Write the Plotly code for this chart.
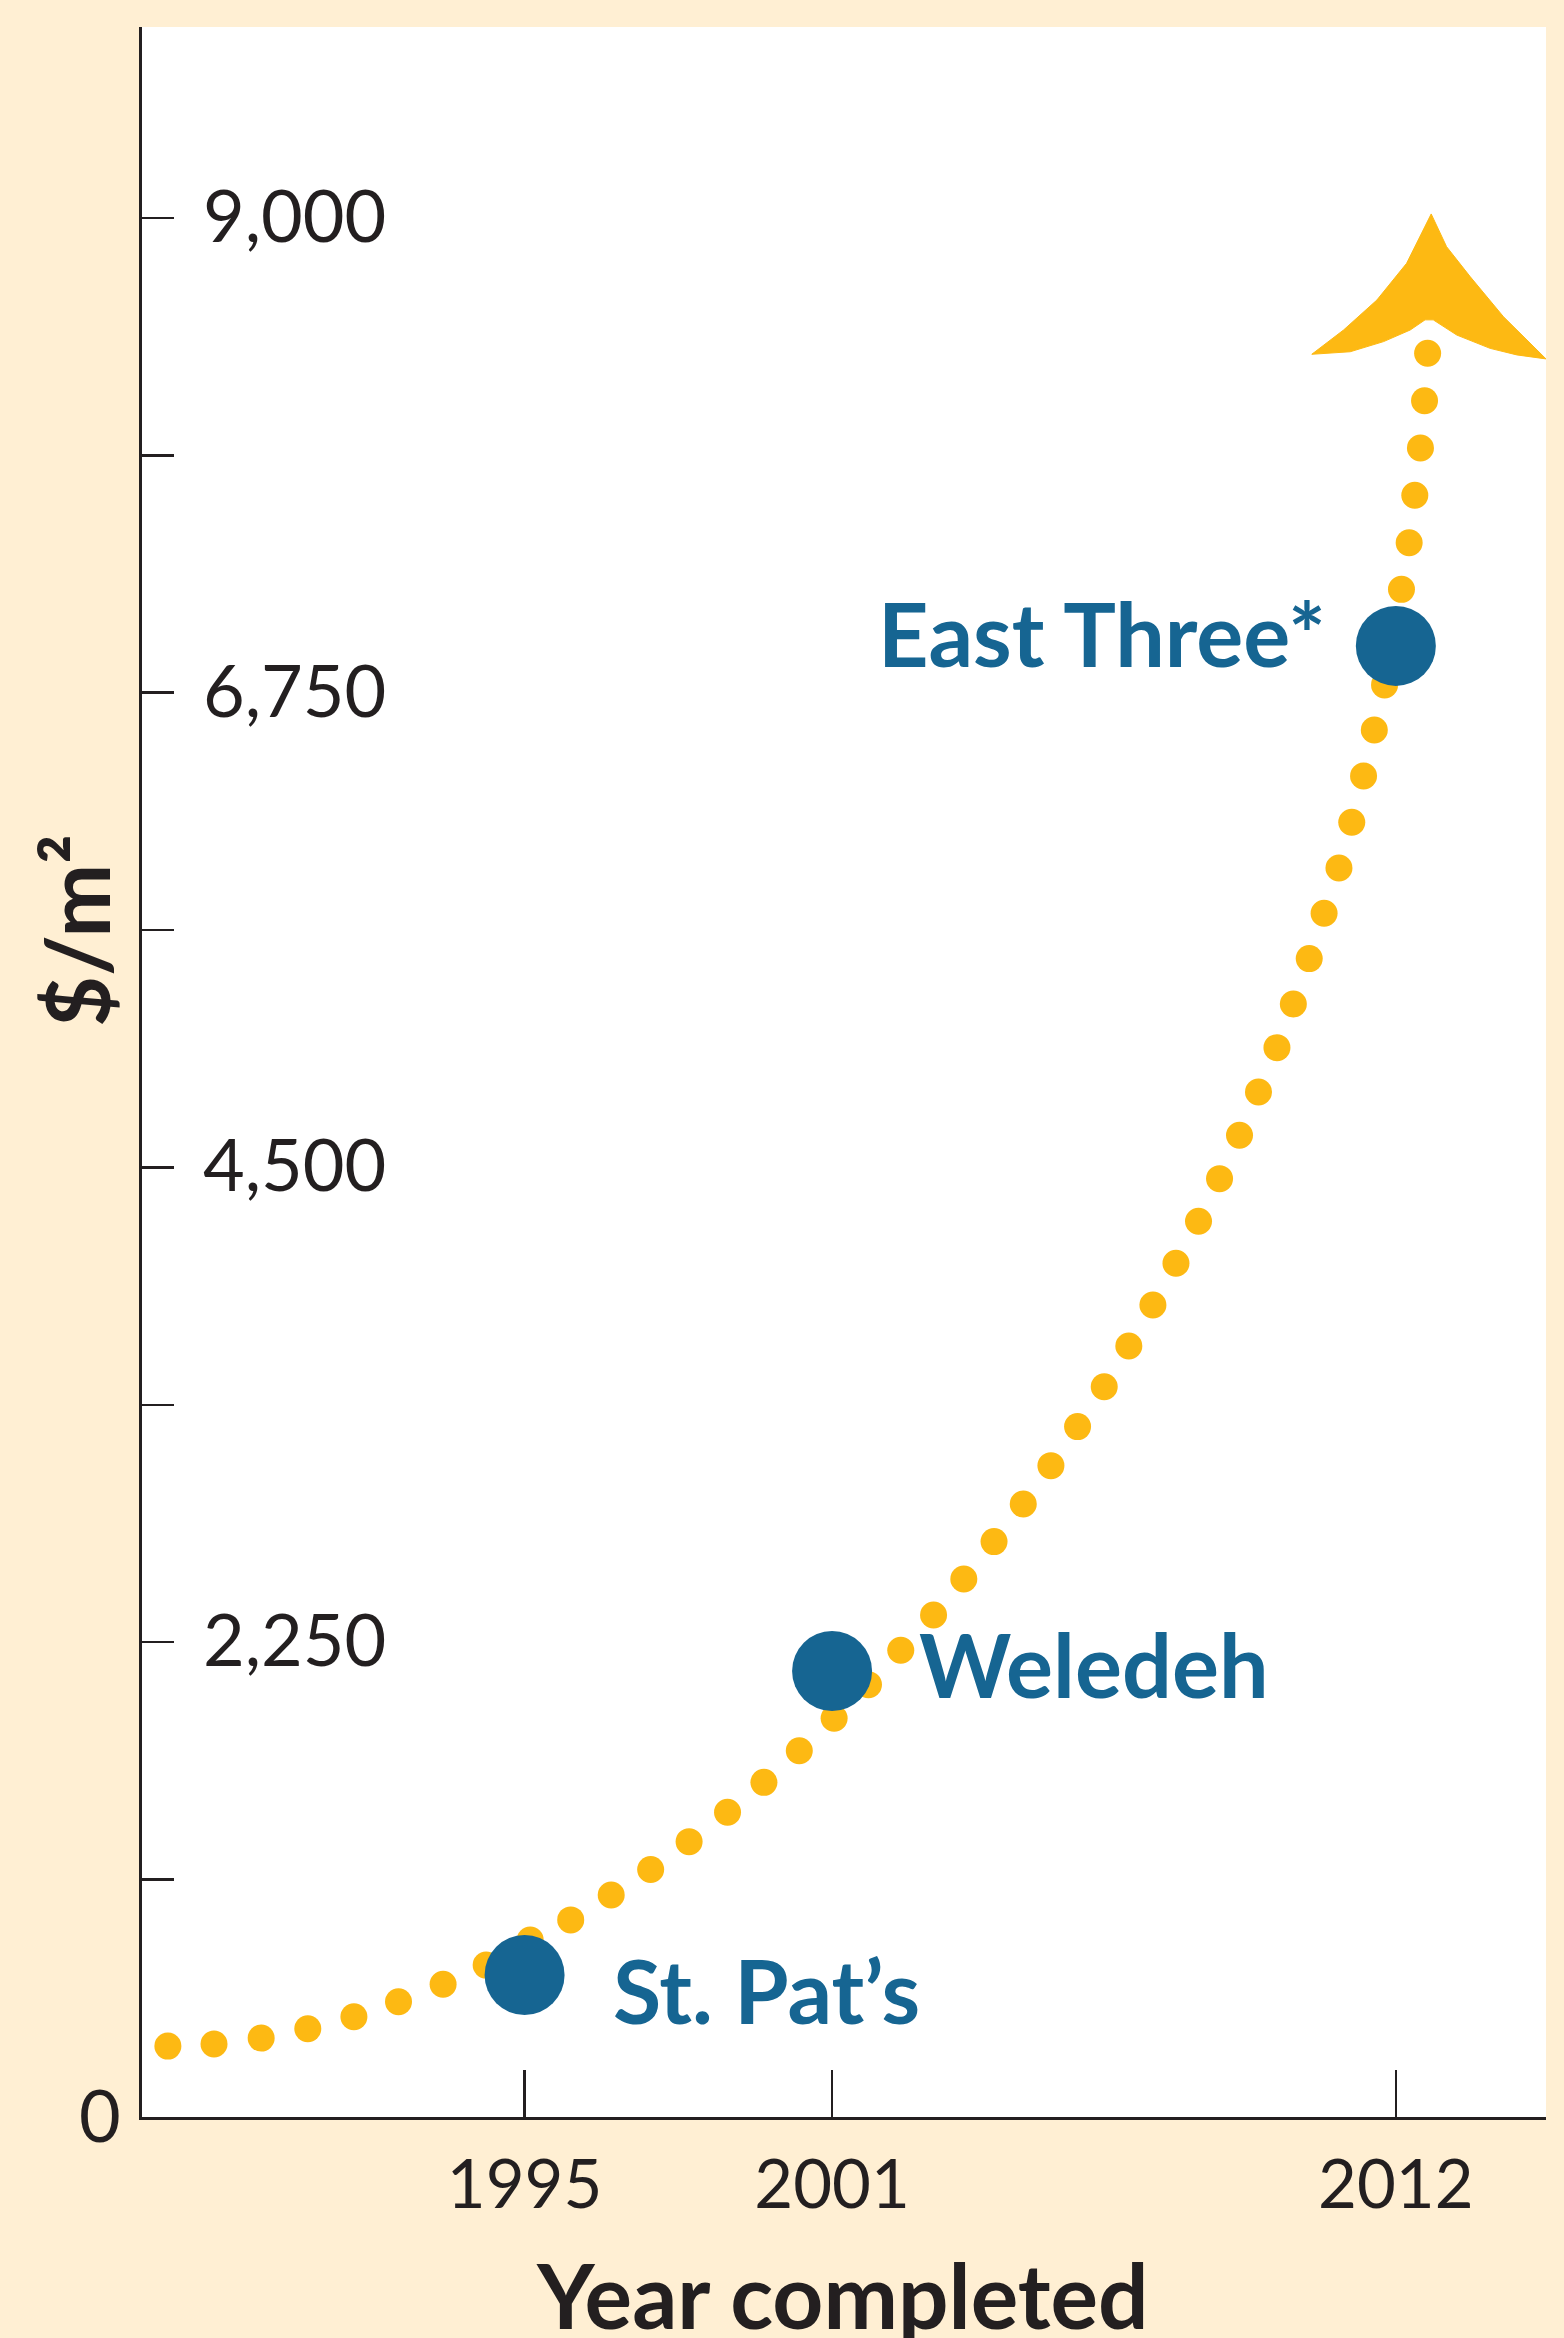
import plotly.graph_objects as go

# ---------------- data ----------------
project_names = ["St. Pat’s", "Weledeh", "East Three*"]
project_years = [1995, 2001, 2012]
project_cost = [673, 2114, 6972]

# dotted trend curve (each dot)
trend_years = [1988.04, 1988.94, 1989.86, 1990.77, 1991.67, 1992.54, 1993.41, 1994.25,
               1995.11, 1995.90, 1996.69, 1997.46, 1998.21, 1998.96, 1999.67, 2000.36,
               2001.04, 2001.71, 2002.34, 2002.98, 2003.57, 2004.16, 2004.73, 2005.27,
               2005.79, 2006.31, 2006.79, 2007.26, 2007.71, 2008.15, 2008.56, 2008.95,
               2009.32, 2009.68, 2010.00, 2010.31, 2010.60, 2010.89, 2011.14, 2011.37,
               2011.58, 2011.78, 2011.94, 2012.11, 2012.26, 2012.37, 2012.48, 2012.56,
               2012.62]
trend_cost = [336, 346, 374, 418, 475, 546, 629, 720,
              839, 934, 1052, 1173, 1305, 1444, 1586, 1736,
              1890, 2049, 2212, 2379, 2550, 2727, 2905, 3087,
              3272, 3461, 3654, 3848, 4046, 4245, 4447, 4653,
              4858, 5068, 5275, 5490, 5705, 5919, 6136, 6355,
              6573, 6787, 7014, 7240, 7461, 7686, 7910, 8134,
              8359]

# arrow head outline
arrow_years = [2012.69, 2012.99, 2013.45, 2014.10, 2014.93, 2014.36, 2013.84, 2013.19,
               2012.73, 2012.57, 2012.28, 2011.76, 2011.11, 2010.36, 2010.98, 2011.63,
               2012.21, 2012.69]
arrow_cost = [9019, 8864, 8722, 8532, 8332, 8351, 8382, 8445,
              8517, 8517, 8469, 8414, 8366, 8354, 8469, 8611,
              8785, 9019]

x_tick_years = [1995, 2001, 2012]
x_tick_text = ["1995", "2001", "2012"]
y_tick_values = [0, 1125, 2250, 3375, 4500, 5625, 6750, 7875, 9000]
y_label_values = [0, 2250, 4500, 6750, 9000]
y_label_text = ["0", "2,250", "4,500", "6,750", "9,000"]

# ---------------- styling ----------------
CREAM = "#FFEFD3"
BLUE = "#166592"
GOLD = "#FDB913"
INK = "#231F20"
FONT = "Lato"

W, H = 1564, 2338
ML, MR, MT, MB = 142, 18, 27, 221

fig = go.Figure()

fig.add_trace(go.Scatter(
    x=arrow_years, y=arrow_cost, mode="lines", fill="toself",
    fillcolor=GOLD, line=dict(color=GOLD, width=1), hoverinfo="skip",
    showlegend=False))

fig.add_trace(go.Scatter(
    x=trend_years, y=trend_cost, mode="markers",
    marker=dict(color=GOLD, size=27, line=dict(width=0)),
    hoverinfo="skip", showlegend=False))

fig.add_trace(go.Scatter(
    x=project_years, y=project_cost, mode="markers",
    marker=dict(color=BLUE, size=80, line=dict(width=0)),
    text=project_names, showlegend=False))

annotations = []
# point labels
label_cfg = [  # (xanchor, xshift, yshift)
    ("left", 86, -15),
    ("left", 85, 7),
    ("right", -68, 13),
]
for name, yr, c, (xa, xs, ys) in zip(project_names, project_years, project_cost, label_cfg):
    annotations.append(dict(
        x=yr, y=c, xref="x", yref="y", text=name, showarrow=False,
        xanchor=xa, yanchor="middle", xshift=xs, yshift=ys,
        font=dict(family=FONT, size=88, color=BLUE, weight=700)))

# y tick labels (drawn inside the plot, except 0)
for v, t in zip(y_label_values, y_label_text):
    if v == 0:
        annotations.append(dict(
            x=0, y=v, xref="paper", yref="y", text=t, showarrow=False,
            xanchor="center", yanchor="middle", xshift=-42, yshift=3,
            font=dict(family=FONT, size=72, color=INK)))
    else:
        annotations.append(dict(
            x=0, y=v, xref="paper", yref="y", text=t, showarrow=False,
            xanchor="left", yanchor="middle", xshift=59, yshift=4,
            font=dict(family=FONT, size=72, color=INK)))

plot_w = W - ML - MR
plot_h = H - MT - MB
# y-axis title
annotations.append(dict(
    x=0, y=(H - MB - 931) / plot_h, xref="paper", yref="paper",
    text="$/m²", showarrow=False, textangle=-90,
    xanchor="center", yanchor="middle", xshift=76 - ML,
    font=dict(family=FONT, size=88, color=INK, weight=700)))
# x-axis title
annotations.append(dict(
    x=(842 - ML) / plot_w, y=0, xref="paper", yref="paper",
    text="Year completed", showarrow=False,
    xanchor="center", yanchor="top", yshift=-122,
    font=dict(family=FONT, size=89, color=INK, weight=700)))

fig.update_layout(
    width=W, height=H,
    margin=dict(l=ML, r=MR, t=MT, b=MB, pad=0),
    paper_bgcolor=CREAM, plot_bgcolor="white",
    showlegend=False,
    annotations=annotations,
    xaxis=dict(
        range=[1987.535, 2014.93], showgrid=False, zeroline=False,
        showline=True, linecolor=INK, linewidth=3,
        ticks="inside", ticklen=47, tickwidth=2.5, tickcolor=INK,
        tickmode="array", tickvals=x_tick_years, ticktext=x_tick_text,
        tickfont=dict(family=FONT, size=67, color=INK),
        ticklabelstandoff=8, fixedrange=True),
    yaxis=dict(
        range=[0, 9905], showgrid=False, zeroline=False,
        showline=True, linecolor=INK, linewidth=3,
        ticks="inside", ticklen=32, tickwidth=2.5, tickcolor=INK,
        tickmode="array", tickvals=y_tick_values, showticklabels=False,
        fixedrange=True),
)

fig.write_html(
    "out.html",
    config={"displayModeBar": False, "staticPlot": True},
    post_script="document.body.style.margin='0';document.body.style.padding='0';"
                "document.documentElement.style.overflow='hidden';")
